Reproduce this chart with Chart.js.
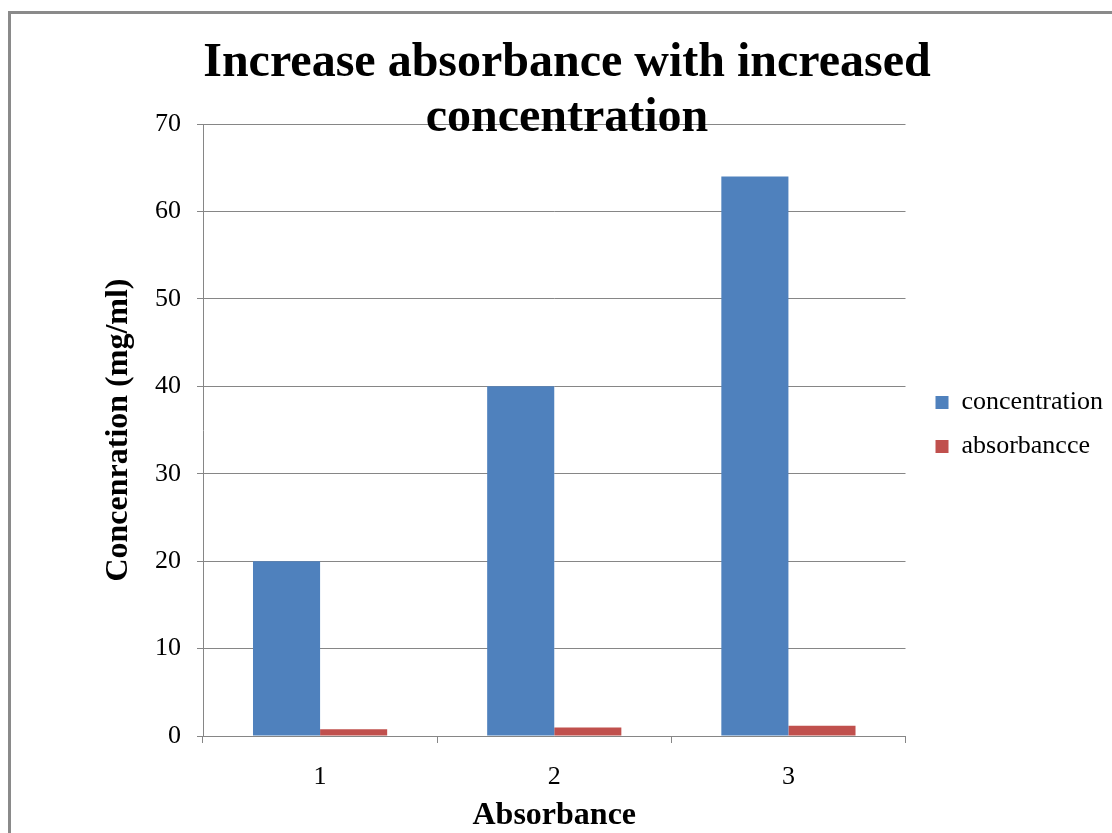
<!DOCTYPE html>
<html>
<head>
<meta charset="utf-8">
<script src="https://cdn.jsdelivr.net/npm/chart.js@4"></script>
<style>
  html, body { margin: 0; padding: 0; background: #ffffff; }
  #wrap { width: 1112px; height: 833px; position: relative; }
</style>
</head>
<body>
<div id="wrap"><canvas id="chart" width="1112" height="833"></canvas></div>
<script>
// Sample numbers and measured concentrations
const categories = ['1', '2', '3'];
const concentration = [20, 40, 64];
const absorbance = [0.77, 0.96, 1.18];
const yTicks = [0, 10, 20, 30, 40, 50, 60, 70];

const SERIF = '"Liberation Serif", "Times New Roman", serif';
const GRID = '#868686';

// Frame lines around the chart sheet
const framePlugin = {
  id: 'frame',
  afterDraw(chart) {
    const ctx = chart.ctx;
    ctx.save();
    ctx.strokeStyle = '#8a8a8a';
    ctx.lineWidth = 3;
    ctx.beginPath();
    ctx.moveTo(9.5, chart.height);
    ctx.lineTo(9.5, 12.5);
    ctx.lineTo(chart.width, 12.5);
    ctx.stroke();
    ctx.restore();
  }
};

// Moves the legend block a little away from the plot area and down
const legendNudge = {
  id: 'legendNudge',
  afterLayout(chart) {
    const lg = chart.legend;
    if (!lg) return;
    lg.left += 12; lg.right += 12;
    lg.top += 8; lg.bottom += 8;
  }
};

new Chart(document.getElementById('chart'), {
  type: 'bar',
  data: {
    labels: categories,
    datasets: [
      { label: 'concentration', data: concentration, backgroundColor: '#4F81BD' },
      { label: 'absorbancce', data: absorbance, backgroundColor: '#C0504D' }
    ]
  },
  options: {
    responsive: false,
    animation: false,
    layout: { padding: { left: 33, right: 11, top: 0, bottom: 0 } },
    datasets: { bar: { categoryPercentage: 0.573, barPercentage: 1.0 } },
    plugins: {
      title: {
        display: true,
        text: ['Increase absorbance with increased', 'concentration'],
        color: '#000000',
        font: { family: SERIF, size: 48, weight: 'bold', lineHeight: 1.15 },
        padding: { top: 36, bottom: -22.4 }
      },
      legend: {
        position: 'right',
        labels: {
          color: '#000000',
          font: { family: SERIF, size: 26 },
          boxWidth: 13,
          boxHeight: 13,
          padding: 18
        }
      },
      tooltip: { enabled: false }
    },
    scales: {
      x: {
        afterFit(scale) { scale.height = 97; },
        grid: { display: true, drawOnChartArea: false, color: GRID, tickLength: 7, offset: true },
        border: { display: true, color: GRID, width: 1 },
        ticks: { color: '#000000', font: { family: SERIF, size: 26 }, padding: 19 },
        title: {
          display: true,
          text: 'Absorbance',
          color: '#000000',
          font: { family: SERIF, size: 32, weight: 'bold' },
          padding: { top: 0, bottom: -2 }
        }
      },
      y: {
        min: 0,
        max: 70,
        afterFit(scale) { scale.width = 170; },
        afterBuildTicks(scale) { scale.ticks = yTicks.map(v => ({ value: v })); },
        grid: { color: GRID, tickLength: 6, drawTicks: true },
        border: { display: true, color: GRID, width: 1 },
        ticks: { color: '#000000', font: { family: SERIF, size: 26 }, padding: 16 },
        title: {
          display: true,
          text: 'Concenration (mg/ml)',
          color: '#000000',
          font: { family: SERIF, size: 32, weight: 'bold' },
          padding: { top: 67, bottom: 0 }
        }
      }
    }
  },
  plugins: [framePlugin, legendNudge]
});
</script>
</body>
</html>
